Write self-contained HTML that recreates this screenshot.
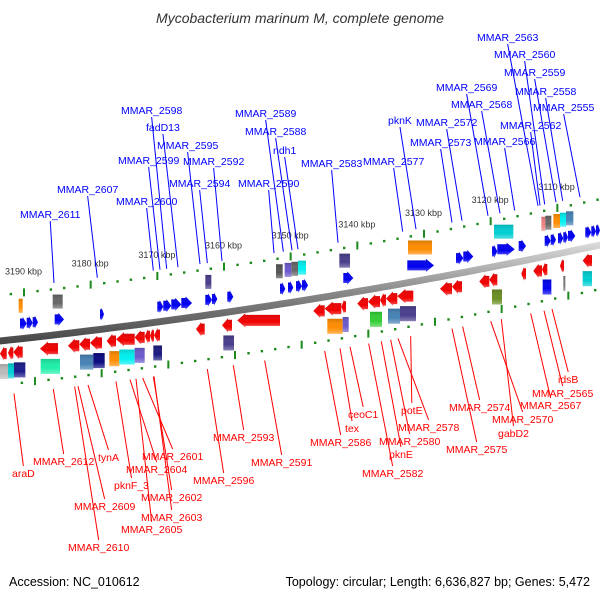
<!DOCTYPE html>
<html><head><meta charset="utf-8"><style>
html,body{margin:0;padding:0;background:#fff;}
svg{display:block;font-family:"Liberation Sans","DejaVu Sans",sans-serif;}
</style></head><body>
<svg id="chart" width="600" height="600" viewBox="0 0 600 600" xmlns="http://www.w3.org/2000/svg">
<defs>
<linearGradient id="band" x1="0" y1="0" x2="0" y2="1"><stop offset="0" stop-color="#ddd"/><stop offset="0.5" stop-color="#888"/><stop offset="1" stop-color="#444"/></linearGradient>
<linearGradient id="shade" x1="0" y1="0" x2="0" y2="1"><stop offset="0" stop-color="#000" stop-opacity="0.15"/><stop offset="0.6" stop-color="#fff" stop-opacity="0"/><stop offset="1" stop-color="#fff" stop-opacity="0.35"/></linearGradient>
</defs>
<text x="300" y="23" text-anchor="middle" font-size="14" font-style="italic" fill="#333">Mycobacterium marinum M, complete genome</text>
<g id="ticks"></g>
<path id="axisband" fill="url(#band)"/>
<g id="feats"></g>
<g id="labels"></g>
<text x="9" y="586" font-size="12.5" fill="#000">Accession: NC_010612</text>
<text x="590" y="586" font-size="12.5" text-anchor="end" fill="#000">Topology: circular; Length: 6,636,827 bp; Genes: 5,472</text>
</svg>
<script>
// data (kbp coordinates)
var tickKbp = [3190,3180,3170,3160,3150,3140,3130,3120,3110];
var plusGenes = [[3190.6,3189.6],[3189.6,3188.7],[3188.7,3187.9],[3185.4,3184.0],[3178.6,3178.0],[3170.0,3169.1],[3169.1,3167.9],[3167.9,3166.4],[3166.4,3164.8],[3162.8,3161.8],[3161.8,3161.0],[3159.5,3158.6],[3151.6,3150.8],[3150.4,3149.6],[3149.2,3148.3],[3148.3,3147.4],[3142.1,3140.6],[3132.5,3128.5],[3125.2,3124.1],[3124.1,3122.6],[3119.8,3119.0],[3119.0,3116.4],[3115.8,3114.7],[3111.9,3111.0],[3111.0,3110.2],[3109.9,3109.1],[3109.1,3108.4],[3108.4,3107.3],[3105.8,3104.9],[3104.9,3104.2],[3104.2,3103.6]];
var minusGenes = [[3193.6,3192.6],[3192.4,3191.6],[3191.6,3190.2],[3187.6,3184.9],[3183.4,3181.7],[3181.7,3180.1],[3180.1,3178.3],[3177.6,3176.2],[3176.2,3173.4],[3173.4,3171.9],[3171.9,3171.1],[3171.1,3170.5],[3170.5,3169.6],[3164.2,3162.9],[3160.3,3158.8],[3158.0,3151.6],[3146.6,3144.9],[3144.9,3142.4],[3142.4,3141.7],[3140.0,3138.4],[3138.4,3136.6],[3136.6,3135.7],[3135.7,3134.0],[3134.0,3131.6],[3127.6,3125.8],[3125.8,3124.3],[3121.7,3120.2],[3120.2,3119.0],[3115.4,3114.7],[3113.6,3112.3],[3112.3,3111.5],[3109.6,3109.0],[3106.2,3104.8]];
var plusCog = [[3190.8,3190.2,"#ff8c00"],[3185.7,3184.2,"#666"],[3162.8,3161.9,"#483d8b"],[3152.2,3151.2,"#555"],[3150.9,3149.9,"#6a5acd"],[3149.9,3148.9,"#666"],[3148.9,3147.7,"#00f0f0"],[3142.7,3141.1,"#483d8b"],[3132.4,3128.8,"#ff8c00"],[3119.5,3116.6,"#00ced1"],[3112.4,3111.8,"#f08080"],[3111.8,3110.9,"#666"],[3110.6,3109.6,"#ff8c00"],[3109.6,3108.7,"#00f0f0"],[3108.7,3107.6,"#4682b4"]];
var minusCog = [[3193.6,3192.4,"#bbb"],[3192.4,3191.5,"#00ced1"],[3191.5,3189.8,"#1c1c8c"],[3187.5,3184.6,"#1ef0a8"],[3181.6,3179.6,"#4682b4"],[3179.6,3177.9,"#0a0a80"],[3177.2,3175.7,"#ff8c00"],[3175.7,3173.4,"#00f0f0"],[3173.4,3171.9,"#6a5acd"],[3170.6,3169.3,"#1a1a80"],[3160.1,3158.5,"#483d8b"],[3144.5,3142.2,"#ff8c00"],[3142.2,3141.3,"#6a5acd"],[3138.1,3136.3,"#32cd32"],[3135.4,3133.6,"#4682b4"],[3133.6,3131.2,"#483d8b"],[3119.8,3118.3,"#6b8e23"],[3112.2,3110.9,"#0000ee"],[3109.1,3108.8,"#777"],[3106.2,3104.8,"#00ced1"]];
var topLabels = [["MMAR_2611",20,218,3185.5],["MMAR_2607",57,193,3179.0],["MMAR_2600",116,205,3170.6],["MMAR_2599",118,164,3169.6],["MMAR_2598",121,114,3168.6],["fadD13",146,131,3166.9],["MMAR_2595",157,149,3163.6],["MMAR_2592",183,165,3160.3],["MMAR_2594",169,187,3162.5],["MMAR_2589",235,117,3151.1],["MMAR_2588",245,135,3149.8],["ndh1",273,154,3148.9],["MMAR_2590",238,187,3152.5],["MMAR_2583",301,167,3142.9],["MMAR_2577",363,165,3133.2],["pknK",388,124,3131.2],["MMAR_2572",416,126,3124.3],["MMAR_2573",410,146,3125.8],["MMAR_2569",436,91,3120.4],["MMAR_2568",451,108,3118.6],["MMAR_2566",474,145,3116.4],["MMAR_2562",500,129,3112.6],["MMAR_2563",477,41,3112.9],["MMAR_2560",494,58,3111.9],["MMAR_2559",504,76,3110.2],["MMAR_2558",515,95,3109.2],["MMAR_2555",533,111,3106.6]];
var bottomLabels = [["araD",12,477,3191.5],["MMAR_2612",33,465,3185.6],["MMAR_2609",74,510,3181.9],["MMAR_2610",68,551,3182.4],["tynA",98,461,3180.4],["pknF_3",114,489,3176.2],["MMAR_2604",126,473,3174.1],["MMAR_2601",142,460,3172.2],["MMAR_2602",141,501,3170.6],["MMAR_2603",141,521,3170.5],["MMAR_2605",121,533,3173.2],["MMAR_2596",193,484,3162.5],["MMAR_2593",213,441,3158.6],["MMAR_2591",251,466,3153.9],["MMAR_2586",310,446,3144.9],["tex",345,432,3142.6],["ceoC1",348,418,3141.1],["MMAR_2582",362,477,3138.3],["pknE",389,458,3136.4],["MMAR_2580",379,445,3135.0],["MMAR_2578",398,431,3133.9],["potE",401,414,3132.0],["MMAR_2575",446,453,3125.8],["MMAR_2574",449,411,3124.2],["MMAR_2570",492,423,3120.0],["gabD2",498,437,3118.4],["MMAR_2567",520,409,3114.0],["MMAR_2565",532,397,3112.0],["idsB",558,383,3110.8]];

var NS="http://www.w3.org/2000/svg";
function X(k){return (3193.6-k)/0.15;}
function C(x){return 341-0.1067*x-0.000089*x*x;}
function mk(tag,parent,attrs){var e=document.createElementNS(NS,tag);for(var a in attrs)e.setAttribute(a,attrs[a]);parent.appendChild(e);return e;}

var d="M0 "+(C(0)-3.5);
for(var x=0;x<=600;x+=10)d+=" L"+x+" "+(C(x)-3.5);
for(var x=600;x>=0;x-=10)d+=" L"+x+" "+(C(x)+3.5);
document.getElementById('axisband').setAttribute('d',d+" Z");

var tg=document.getElementById('ticks');
for(var k=3194;k>=3100;k-=2){
  var ux=X(k); if(ux<0||ux>600)continue;
  var major=(k%10===0);
  var lx=ux+11;
  var t1,t2;
  if(major){
    t1=mk('rect',tg,{x:ux-1,y:C(ux)-46-4,width:2,height:8,fill:'#1a8a1a'});
    t2=mk('rect',tg,{x:lx-1,y:C(lx)+44-4,width:2,height:8,fill:'#1a8a1a'});
  }else{
    t1=mk('rect',tg,{x:ux-1,y:C(ux)-46-1,width:2.4,height:2.4,fill:'#1a8a1a'});
    t2=mk('rect',tg,{x:lx-1,y:C(lx)+44-1,width:2.4,height:2.4,fill:'#1a8a1a'});
  }
  
  
  
  
}
tickKbp.forEach(function(k){
  var ux=X(k);
  var t=mk('text',tg,{x:ux-19,y:C(ux)-64,'font-size':'9',fill:'#333'});
  t.textContent=k+" kbp";
  
  
});

var fg=document.getElementById('feats');
function box(s,e,off,h,col,name){
  var x0=X(s),x1=X(e),cx=(x0+x1)/2,cy=C(cx)+off;
  var r=mk('rect',fg,{x:x0,y:cy-h/2,width:Math.max(1.5,x1-x0),height:h,fill:col});
  
  
  mk('rect',fg,{x:x0,y:cy-h/2,width:Math.max(1.5,x1-x0),height:h,fill:'url(#shade)'});
}
function arrow(s,e,off,h,col,dir,name){
  var x0=X(s),x1=X(e),w=x1-x0,cx=(x0+x1)/2,cy=C(cx)+off;
  var hd=Math.min(w*0.6,8),pts;
  if(dir>0){pts=[[x0,cy-h/2+1.5],[x1-hd,cy-h/2+1.5],[x1-hd,cy-h/2],[x1,cy],[x1-hd,cy+h/2],[x1-hd,cy+h/2-1.5],[x0,cy+h/2-1.5]];}
  else{pts=[[x1,cy-h/2+1.5],[x0+hd,cy-h/2+1.5],[x0+hd,cy-h/2],[x0,cy],[x0+hd,cy+h/2],[x0+hd,cy+h/2-1.5],[x1,cy+h/2-1.5]];}
  var p=mk('polygon',fg,{points:pts.map(function(q){return q[0].toFixed(1)+","+q[1].toFixed(1);}).join(" "),fill:col});
  
  
  mk('polygon',fg,{points:p.getAttribute('points'),fill:'url(#shade)'});
}
plusGenes.forEach(function(g){arrow(g[0],g[1],-15,13,'#0000f0',1,'plus-strand-gene');});
minusGenes.forEach(function(g){arrow(g[0],g[1],13,14,'#f00000',-1,'minus-strand-gene');});
plusCog.forEach(function(g){box(g[0],g[1],-33,14,g[2],'plus-cog-box');});
minusCog.forEach(function(g){box(g[0],g[1],31,15,g[2],'minus-cog-box');});

var lg=document.getElementById('labels');
topLabels.forEach(function(L){
  var t=mk('text',lg,{x:L[1],y:L[2],'font-size':'10.5',fill:'#0000ff'});
  t.textContent=L[0];
  
  
  var w=t.getComputedTextLength();
  var gx=X(L[3]);
  var ln=mk('line',lg,{x1:L[1]+w/2,y1:L[2]+3,x2:gx,y2:C(gx)-52,stroke:'#0000ff','stroke-width':1});
  
  
});
bottomLabels.forEach(function(L){
  var t=mk('text',lg,{x:L[1],y:L[2],'font-size':'10.5',fill:'#ff0000'});
  t.textContent=L[0];
  
  
  var w=t.getComputedTextLength();
  var gx=X(L[3]);
  var ln=mk('line',lg,{x1:gx,y1:C(gx)+54,x2:L[1]+w/2,y2:L[2]-11,stroke:'#ff0000','stroke-width':1});
  
  
});
</script>
</body></html>
